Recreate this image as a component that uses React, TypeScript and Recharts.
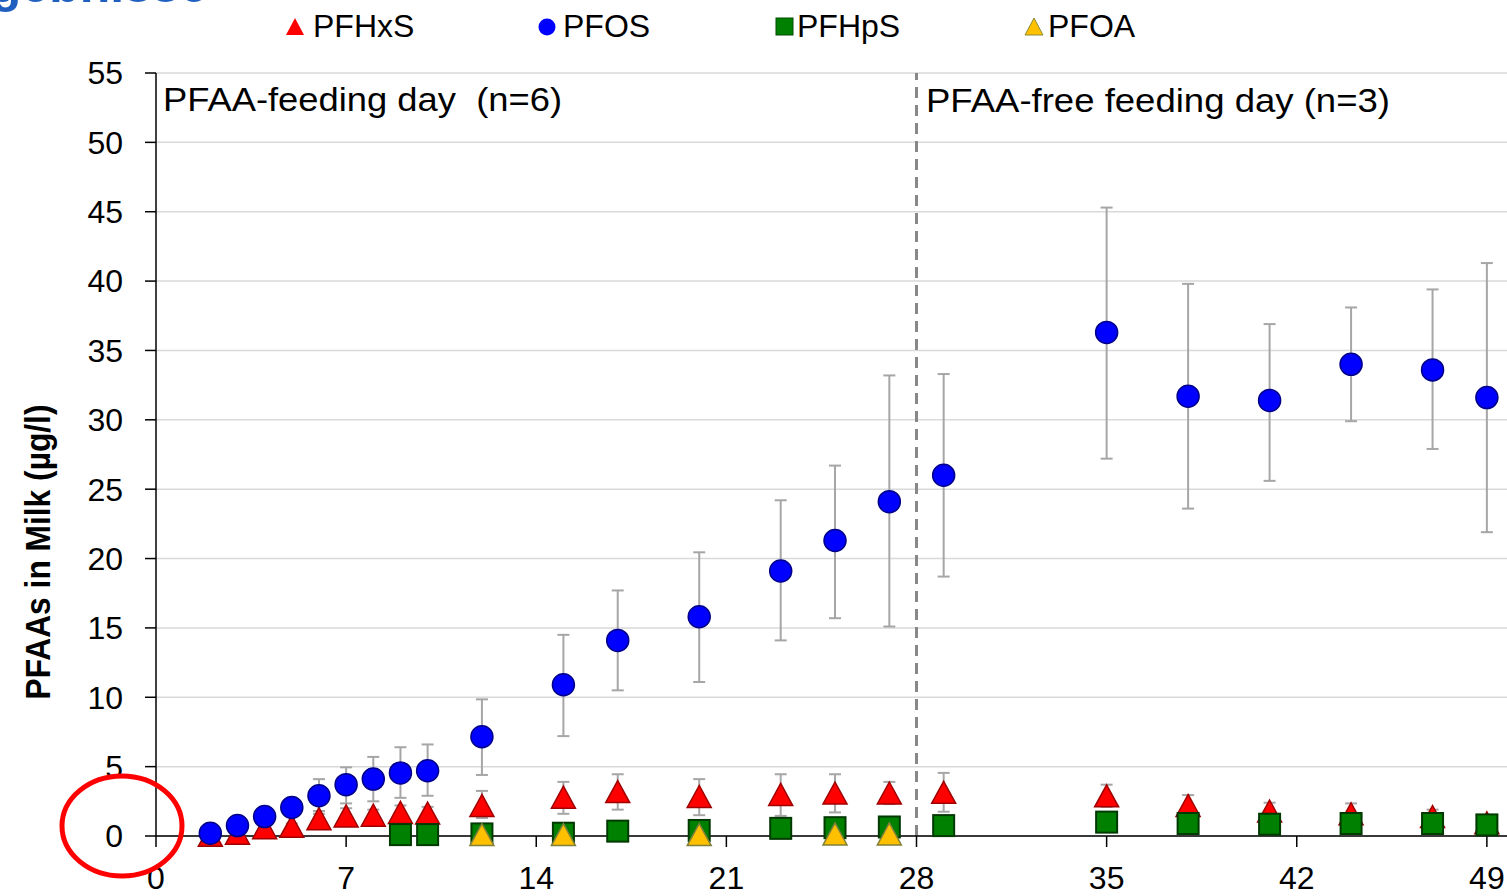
import { ScatterChart, Scatter, XAxis, YAxis, CartesianGrid, ReferenceLine, ErrorBar } from "recharts";

// days of sampling
const pfosDays = [2, 3, 4, 5, 6, 7, 8, 9, 10, 12, 15, 17, 20, 23, 25, 27, 29, 35, 38, 41, 44, 47, 49];
const pfosMean = [0.2, 0.75, 1.4, 2.05, 2.9, 3.7, 4.1, 4.55, 4.7, 7.15, 10.9, 14.1, 15.8, 19.1, 21.3, 24.1, 26.0, 36.3, 31.7, 31.4, 34.0, 33.6, 31.6];
const pfosLow = [0.1, 0.5, 1.1, 1.7, 1.8, 2.35, 2.5, 2.75, 2.9, 4.4, 7.2, 10.5, 11.1, 14.1, 15.7, 15.1, 18.7, 27.2, 23.6, 25.6, 29.9, 27.9, 21.9];
const pfosHigh = [0.3, 1.0, 1.7, 2.4, 4.1, 4.95, 5.7, 6.4, 6.6, 9.85, 14.5, 17.7, 20.45, 24.2, 26.7, 33.2, 33.3, 45.3, 39.8, 36.9, 38.1, 39.4, 41.3];

const pfhxsDays = [2, 3, 4, 5, 6, 7, 8, 9, 10, 12, 15, 17, 20, 23, 25, 27, 29, 35, 38, 41, 44, 47, 49];
const pfhxsMean = [0.05, 0.2, 0.6, 0.7, 1.25, 1.45, 1.5, 1.7, 1.65, 2.2, 2.8, 3.2, 2.85, 3.0, 3.1, 3.1, 3.15, 2.9, 2.2, 1.8, 1.6, 1.4, 0.95];
const pfhxsLow = [0, 0.1, 0.4, 0.5, 0.9, 1.0, 1.1, 1.2, 1.2, 1.3, 1.6, 1.9, 1.5, 1.45, 1.7, 2.3, 1.75, 2.1, 1.5, 1.2, 1.0, 0.9, 0.6];
const pfhxsHigh = [0.1, 0.3, 0.8, 0.9, 1.6, 2.0, 1.9, 2.2, 2.1, 3.25, 3.9, 4.45, 4.1, 4.45, 4.45, 3.9, 4.55, 3.7, 2.95, 2.4, 2.35, 1.9, 1.3];

const pfhpsDays = [9, 10, 12, 15, 17, 20, 23, 25, 27, 29, 35, 38, 41, 44, 47, 49];
const pfhpsMean = [0.1, 0.1, 0.15, 0.2, 0.35, 0.4, 0.55, 0.6, 0.65, 0.75, 1.0, 0.9, 0.85, 0.9, 0.9, 0.8];

const pfoaDays = [12, 15, 20, 25, 27];
const pfoaMean = [0.1, 0.1, 0.1, 0.15, 0.15];

const xTicks = [0, 7, 14, 21, 28, 35, 42, 49, 56];
const yTicks = [0, 5, 10, 15, 20, 25, 30, 35, 40, 45, 50, 55];

const FONT = "'Liberation Sans', Arial, sans-serif";

const withErr = (days: number[], mean: number[], low?: number[], high?: number[]) =>
  days.map((d, i) => ({
    x: d,
    y: mean[i],
    err: low && high ? [mean[i] - low[i], high[i] - mean[i]] : [0, 0],
  }));

const pfos = withErr(pfosDays, pfosMean, pfosLow, pfosHigh);
const pfhxs = withErr(pfhxsDays, pfhxsMean, pfhxsLow, pfhxsHigh);
const pfhps = withErr(pfhpsDays, pfhpsMean);
const pfoa = withErr(pfoaDays, pfoaMean);

const triangle = (fill: string, stroke: string, w: number, h: number) => (p: any) => (
  <polygon
    points={`${p.cx},${p.cy - h / 2} ${p.cx + w / 2},${p.cy + h / 2} ${p.cx - w / 2},${p.cy + h / 2}`}
    fill={fill}
    stroke={stroke}
    strokeWidth={1.5}
  />
);
const square = (fill: string, stroke: string, s: number) => (p: any) => (
  <rect x={p.cx - s / 2} y={p.cy - s / 2} width={s} height={s} fill={fill} stroke={stroke} strokeWidth={2} />
);
const circle = (fill: string, stroke: string, r: number) => (p: any) => (
  <circle cx={p.cx} cy={p.cy} r={r} fill={fill} stroke={stroke} strokeWidth={1.5} />
);

const errStyle = { stroke: "#a6a6a6", strokeWidth: 2, width: 6 };

export default function App() {
  return (
    <div style={{ position: "absolute", left: 0, top: 0, width: 1507, height: 896, overflow: "hidden", background: "#fff", fontFamily: FONT }}>
      <ScatterChart width={1700} height={896} margin={{ top: 73, right: 23, bottom: 0, left: 0 }}>
        <CartesianGrid horizontal vertical={false} stroke="#d9d9d9" strokeWidth={1.5} />
        <XAxis
          type="number"
          dataKey="x"
          domain={[0, 56]}
          ticks={xTicks}
          interval={0}
          height={60}
          tickSize={11}
          tickMargin={19}
          axisLine={{ stroke: "#000", strokeWidth: 1.5 }}
          tickLine={{ stroke: "#000", strokeWidth: 1.5 }}
          tick={{ fill: "#000", fontSize: 32, fontFamily: FONT }}
        />
        <YAxis
          type="number"
          dataKey="y"
          domain={[0, 55]}
          ticks={yTicks}
          interval={0}
          width={156}
          tickSize={11}
          tickMargin={22}
          axisLine={{ stroke: "#000", strokeWidth: 1.5 }}
          tickLine={{ stroke: "#000", strokeWidth: 1.5 }}
          tick={{ fill: "#000", fontSize: 32, fontFamily: FONT }}
        />
        <ReferenceLine x={28} stroke="#888" strokeWidth={3} strokeDasharray="11 7" />
        <Scatter name="PFHxS" data={pfhxs} isAnimationActive={false} shape={triangle("#ff0000", "#a00000", 24, 22)}>
          <ErrorBar dataKey="err" direction="y" {...errStyle} />
        </Scatter>
        <Scatter name="PFOS" data={pfos} isAnimationActive={false} shape={circle("#0000ff", "#00008b", 11)}>
          <ErrorBar dataKey="err" direction="y" {...errStyle} />
        </Scatter>
        <Scatter name="PFHpS" data={pfhps} isAnimationActive={false} shape={square("#008000", "#003a00", 21)} />
        <Scatter name="PFOA" data={pfoa} isAnimationActive={false} shape={triangle("#ffc000", "#7f7f3a", 24, 22)} />
      </ScatterChart>

      <svg width={1507} height={896} style={{ position: "absolute", left: 0, top: 0, pointerEvents: "none" }} fontFamily={FONT}>
        {/* cut-off slide heading, only its lower edge is on the page */}
        <text x={-62} y={2} fontSize={50} fontWeight="bold" fill="#1f5fc0">Ergebnisse</text>

        {/* legend */}
        <polygon points="295,18 304,35 286,35" fill="#ff0000" />
        <text x={313} y={37} fontSize={32}>PFHxS</text>
        <circle cx={547} cy={27} r={8.5} fill="#0000ff" />
        <text x={563} y={37} fontSize={32}>PFOS</text>
        <rect x={776} y={18} width={17} height={17} fill="#008000" stroke="#004d00" strokeWidth={1} />
        <text x={797} y={37} fontSize={32}>PFHpS</text>
        <polygon points="1034,18 1043,35 1025,35" fill="#ffc000" stroke="#8a8a3a" strokeWidth={1} />
        <text x={1048} y={37} fontSize={32}>PFOA</text>

        {/* phase labels */}
        <text x={163} y={111} fontSize={33} textLength={399} lengthAdjust="spacingAndGlyphs" xmlSpace="preserve">
          PFAA-feeding day  (n=6)
        </text>
        <text x={926} y={112} fontSize={34} textLength={464} lengthAdjust="spacingAndGlyphs">
          PFAA-free feeding day (n=3)
        </text>

        {/* y axis title */}
        <text
          x={0}
          y={0}
          transform="translate(50,552) rotate(-90)"
          textAnchor="middle"
          fontSize={35}
          fontWeight="bold"
          textLength={295}
          lengthAdjust="spacingAndGlyphs"
        >
          PFAAs in Milk (µg/l)
        </text>

        {/* hand-drawn highlight around the origin */}
        <ellipse cx={122} cy={826} rx={60} ry={50} fill="none" stroke="#ff0000" strokeWidth={5} />
      </svg>
    </div>
  );
}
